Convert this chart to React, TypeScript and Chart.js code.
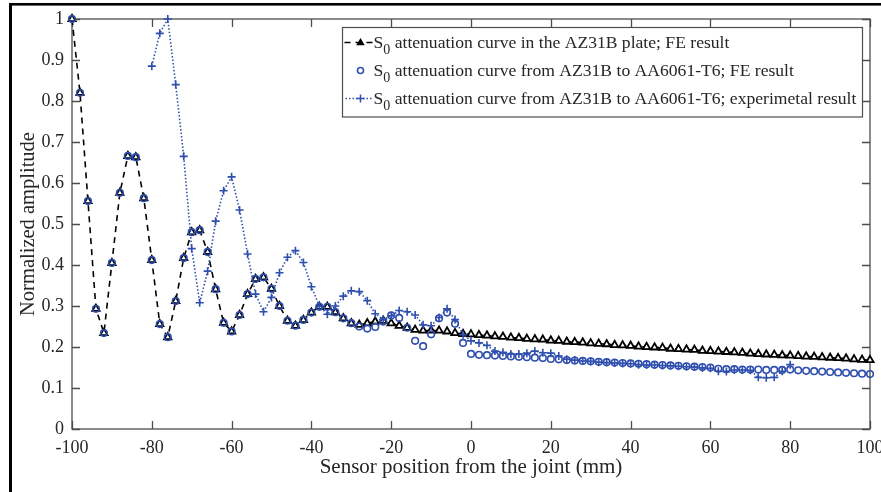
import React, { useEffect, useRef } from "react";
import { Chart, registerables } from "chart.js";

Chart.register(...registerables);

// ---------- data ----------
const xFE = [
  -100, -98, -96, -94, -92, -90, -88, -86, -84, -82, -80, -78, -76, -74, -72, -70, -68, -66, -64, -62,
  -60, -58, -56, -54, -52, -50, -48, -46, -44, -42, -40, -38, -36, -34, -32, -30, -28, -26, -24, -22,
  -20, -18, -16, -14, -12, -10, -8, -6, -4, -2, 0, 2, 4, 6, 8, 10, 12, 14, 16, 18,
  20, 22, 24, 26, 28, 30, 32, 34, 36, 38, 40, 42, 44, 46, 48, 50, 52, 54, 56, 58,
  60, 62, 64, 66, 68, 70, 72, 74, 76, 78, 80, 82, 84, 86, 88, 90, 92, 94, 96, 98, 100,
];

const feAZ31B = [
  1.0, 0.82, 0.556, 0.293, 0.234, 0.405, 0.576, 0.666, 0.663, 0.563, 0.412, 0.256, 0.224, 0.312, 0.417, 0.48, 0.485, 0.432, 0.341, 0.259,
  0.238, 0.278, 0.329, 0.366, 0.37, 0.342, 0.3, 0.264, 0.252, 0.266, 0.284, 0.298, 0.298, 0.285, 0.27, 0.258, 0.254, 0.258, 0.262, 0.264,
  0.258, 0.252, 0.247, 0.242, 0.24, 0.24, 0.24, 0.238, 0.234, 0.232, 0.231, 0.229, 0.228, 0.226, 0.225, 0.223, 0.222, 0.22, 0.219, 0.218,
  0.216, 0.215, 0.213, 0.212, 0.211, 0.209, 0.208, 0.207, 0.205, 0.204, 0.203, 0.201, 0.2, 0.199, 0.198, 0.196, 0.195, 0.194, 0.193, 0.191,
  0.19, 0.189, 0.188, 0.187, 0.186, 0.184, 0.183, 0.182, 0.181, 0.18, 0.179, 0.178, 0.177, 0.176, 0.175, 0.174, 0.173, 0.172, 0.17, 0.169, 0.168,
];

const feAZ31BtoAA = [
  1.0, 0.82, 0.556, 0.293, 0.234, 0.405, 0.576, 0.666, 0.663, 0.563, 0.412, 0.256, 0.224, 0.312, 0.417, 0.48, 0.485, 0.432, 0.341, 0.259,
  0.238, 0.278, 0.329, 0.366, 0.37, 0.342, 0.3, 0.264, 0.252, 0.266, 0.284, 0.298, 0.298, 0.285, 0.27, 0.258, 0.25, 0.245, 0.249, 0.262,
  0.277, 0.271, 0.247, 0.215, 0.202, 0.231, 0.27, 0.284, 0.257, 0.21, 0.183, 0.181, 0.18, 0.179, 0.178, 0.177, 0.176, 0.175, 0.174, 0.173,
  0.171, 0.17, 0.168, 0.167, 0.166, 0.165, 0.164, 0.163, 0.162, 0.161, 0.16, 0.159, 0.158, 0.157, 0.156, 0.155, 0.154, 0.153, 0.152, 0.151,
  0.15, 0.147, 0.146, 0.146, 0.145, 0.145, 0.145, 0.144, 0.144, 0.144, 0.145, 0.143, 0.142, 0.141, 0.14, 0.139, 0.138, 0.137, 0.136, 0.135, 0.134,
];

const xExp = [
  -80, -78, -76, -74, -72, -70, -68, -66, -64, -62, -60, -58, -56, -54, -52, -50, -48, -46, -44, -42,
  -40, -38, -36, -34, -32, -30, -28, -26, -24, -22, -20, -18, -16, -14, -12, -10, -8, -6, -4, -2,
  0, 2, 4, 6, 8, 10, 12, 14, 16, 18, 20, 22, 24, 26, 28, 30, 32, 34, 36, 38,
  40, 42, 44, 46, 48, 50, 52, 54, 56, 58, 60, 62, 64, 66, 68, 70, 72, 74, 76, 78, 80,
];

const expAZ31BtoAA = [
  0.885, 0.965, 1.0, 0.84, 0.665, 0.44, 0.308, 0.385, 0.507, 0.581, 0.615, 0.534, 0.427, 0.329, 0.286, 0.321, 0.381, 0.419, 0.435, 0.406,
  0.347, 0.3, 0.28, 0.3, 0.324, 0.337, 0.335, 0.313, 0.281, 0.267, 0.276, 0.289, 0.286, 0.278, 0.254, 0.252, 0.272, 0.293, 0.267, 0.23,
  0.215, 0.21, 0.204, 0.19, 0.187, 0.183, 0.183, 0.185, 0.19, 0.186, 0.185, 0.178, 0.17, 0.168, 0.166, 0.165, 0.163, 0.162, 0.161, 0.16,
  0.159, 0.157, 0.156, 0.156, 0.155, 0.154, 0.153, 0.152, 0.151, 0.149, 0.148, 0.141, 0.14, 0.144, 0.144, 0.143, 0.126, 0.125, 0.126, 0.141, 0.157,
];

const xTicks = [-100, -80, -60, -40, -20, 0, 20, 40, 60, 80, 100];
const yTicks = [0, 0.1, 0.2, 0.3, 0.4, 0.5, 0.6, 0.7, 0.8, 0.9, 1];

const xTitle = "Sensor position from the joint (mm)";
const yTitle = "Normalized amplitude";

const legendMain = ["S", "S", "S"];
const legendSub = ["0", "0", "0"];
const legendRest = [
  " attenuation curve in the AZ31B plate; FE result",
  " attenuation curve from AZ31B to AA6061-T6; FE result",
  " attenuation curve from AZ31B to AA6061-T6; experimetal result",
];

// ---------- styles ----------
const BLUE = "#2f4fae";
const AXIS = "#4d4d4d";
const TEXT = "#262626";
const FONT = '"Liberation Serif", "Times New Roman", serif';

const framePlugin = {
  id: "frame",
  beforeDraw(chart: any) {
    const ctx = chart.ctx;
    ctx.save();
    ctx.fillStyle = "#ffffff";
    ctx.fillRect(0, 0, chart.width, chart.height);
    ctx.fillStyle = "#000000";
    ctx.fillRect(9, 3, 3, chart.height - 3);
    ctx.fillRect(9, 3, chart.width - 9, 2.6);
    ctx.restore();
  },
};

const axesBoxPlugin = {
  id: "axesBox",
  beforeDatasetsDraw(chart: any) {
    const { ctx, chartArea } = chart;
    const { left, right, top, bottom } = chartArea;
    const xs = chart.scales.x;
    const ys = chart.scales.y;
    ctx.save();
    ctx.strokeStyle = AXIS;
    ctx.lineWidth = 1.3;
    ctx.strokeRect(left, top, right - left, bottom - top);
    ctx.beginPath();
    const tl = 8;
    for (const v of xTicks) {
      const px = Math.round(xs.getPixelForValue(v)) + 0.5;
      ctx.moveTo(px, bottom);
      ctx.lineTo(px, bottom - tl);
      ctx.moveTo(px, top);
      ctx.lineTo(px, top + tl);
    }
    for (const v of yTicks) {
      const py = Math.round(ys.getPixelForValue(v)) + 0.5;
      ctx.moveTo(left, py);
      ctx.lineTo(left + tl, py);
      ctx.moveTo(right, py);
      ctx.lineTo(right - tl, py);
    }
    ctx.stroke();
    ctx.restore();
  },
};

function drawTriangle(ctx: CanvasRenderingContext2D, x: number, y: number, r: number) {
  ctx.beginPath();
  ctx.moveTo(x, y - r);
  ctx.lineTo(x + r * 0.95, y + r * 0.6);
  ctx.lineTo(x - r * 0.95, y + r * 0.6);
  ctx.closePath();
}

const legendPlugin = {
  id: "boxLegend",
  afterDraw(chart: any) {
    const ctx: CanvasRenderingContext2D = chart.ctx;
    const { right, top } = chart.chartArea;
    const bx = Math.round(right - 8) + 0.5 - 520;
    const by = Math.round(top + 8) + 0.5;
    const bw = 520;
    const bh = 89.5;
    ctx.save();
    ctx.fillStyle = "#ffffff";
    ctx.fillRect(bx, by, bw, bh);
    ctx.strokeStyle = AXIS;
    ctx.lineWidth = 1.2;
    ctx.strokeRect(bx, by, bw, bh);

    const baselines = [by + 20, by + 48, by + 76];
    const symX0 = bx + 2;
    const symX1 = bx + 30;
    const symC = bx + 18;

    // row 1: dashed black + filled triangle
    let cy = baselines[0] - 5;
    ctx.strokeStyle = "#000";
    ctx.lineWidth = 1.5;
    ctx.setLineDash([6, 5]);
    ctx.beginPath();
    ctx.moveTo(symX0, cy);
    ctx.lineTo(symX1, cy);
    ctx.stroke();
    ctx.setLineDash([]);
    ctx.fillStyle = "#000";
    drawTriangle(ctx, symC, cy, 4.5);
    ctx.fill();

    // row 2: blue circle
    cy = baselines[1] - 5;
    ctx.strokeStyle = BLUE;
    ctx.lineWidth = 1.6;
    ctx.beginPath();
    ctx.arc(symC, cy, 3, 0, Math.PI * 2);
    ctx.stroke();

    // row 3: dotted blue + cross
    cy = baselines[2] - 5;
    ctx.lineWidth = 1.5;
    ctx.setLineDash([1.5, 2]);
    ctx.beginPath();
    ctx.moveTo(symX0 + 1, cy);
    ctx.lineTo(symX1 + 1, cy);
    ctx.stroke();
    ctx.setLineDash([]);
    ctx.beginPath();
    ctx.moveTo(symC - 4, cy);
    ctx.lineTo(symC + 4, cy);
    ctx.moveTo(symC, cy - 4);
    ctx.lineTo(symC, cy + 4);
    ctx.stroke();

    // texts
    ctx.fillStyle = TEXT;
    ctx.textBaseline = "alphabetic";
    ctx.textAlign = "left";
    for (let i = 0; i < 3; i++) {
      let tx = bx + 31;
      const b = baselines[i];
      ctx.font = `17.6px ${FONT}`;
      ctx.fillText(legendMain[i], tx, b);
      tx += ctx.measureText(legendMain[i]).width;
      ctx.font = `14px ${FONT}`;
      ctx.fillText(legendSub[i], tx, b + 6);
      tx += ctx.measureText(legendSub[i]).width;
      ctx.font = `17.6px ${FONT}`;
      ctx.fillText(legendRest[i], tx, b);
    }
    ctx.restore();
  },
};

export default function App() {
  const ref = useRef<HTMLCanvasElement | null>(null);

  useEffect(() => {
    document.body.style.margin = "0";
    const canvas = ref.current;
    if (!canvas) return;
    const tickFont = { family: FONT, size: 18 };
    const chart = new Chart(canvas, {
      type: "line",
      data: {
        datasets: [
          {
            label: legendMain[0] + legendSub[0] + legendRest[0],
            data: xFE.map((x, i) => ({ x, y: feAZ31B[i] })),
            borderColor: "#000000",
            borderWidth: 1.6,
            borderDash: [6, 5],
            pointStyle: "triangle",
            pointRadius: 4.2,
            pointBorderColor: "#000000",
            pointBackgroundColor: "#ffffff",
            pointBorderWidth: 1.8,
            tension: 0,
            clip: false,
            order: 3,
          } as any,
          {
            label: legendMain[1] + legendSub[1] + legendRest[1],
            data: xFE.map((x, i) => ({ x, y: feAZ31BtoAA[i] })),
            showLine: false,
            borderColor: BLUE,
            pointStyle: "circle",
            pointRadius: 3.3,
            pointBorderColor: BLUE,
            pointBackgroundColor: "rgba(0,0,0,0)",
            pointBorderWidth: 1.6,
            clip: false,
            order: 2,
          } as any,
          {
            label: legendMain[2] + legendSub[2] + legendRest[2],
            data: xExp.map((x, i) => ({ x, y: expAZ31BtoAA[i] })),
            borderColor: BLUE,
            borderWidth: 1.6,
            borderDash: [1.5, 2],
            pointStyle: "cross",
            pointRadius: 4,
            pointBorderColor: BLUE,
            pointBorderWidth: 1.6,
            tension: 0,
            clip: false,
            order: 1,
          } as any,
        ],
      },
      options: {
        responsive: false,
        animation: false,
        layout: { padding: { left: 0, right: 11, top: 19, bottom: 0 } },
        plugins: {
          legend: { display: false },
          tooltip: { enabled: false },
        },
        scales: {
          x: {
            type: "linear",
            min: -100,
            max: 100,
            afterBuildTicks: (s: any) => {
              s.ticks = xTicks.map((v) => ({ value: v }));
            },
            afterFit: (s: any) => {
              s.height = 63;
              s.paddingLeft = 0;
              s.paddingRight = 0;
            },
            grid: { display: false, drawTicks: false },
            border: { display: false },
            ticks: {
              font: tickFont,
              color: TEXT,
              padding: 8,
              maxRotation: 0,
              autoSkip: false,
              callback: (v: any) => String(v),
            },
            title: {
              display: true,
              text: xTitle,
              font: { family: FONT, size: 21 },
              color: TEXT,
              padding: { top: 0, bottom: 12 },
            },
          },
          y: {
            type: "linear",
            min: 0,
            max: 1,
            afterBuildTicks: (s: any) => {
              s.ticks = yTicks.map((v) => ({ value: v }));
            },
            afterFit: (s: any) => {
              s.width = 72;
              s.paddingTop = 0;
              s.paddingBottom = 0;
            },
            grid: { display: false, drawTicks: false },
            border: { display: false },
            ticks: {
              font: tickFont,
              color: TEXT,
              padding: 8,
              autoSkip: false,
              callback: (v: any) => String(Math.round(v * 10) / 10),
            },
            title: {
              display: true,
              text: yTitle,
              font: { family: FONT, size: 20.5 },
              color: TEXT,
              padding: { top: 16, bottom: 0 },
            },
          },
        },
      } as any,
      plugins: [framePlugin, axesBoxPlugin, legendPlugin],
    });
    return () => chart.destroy();
  }, []);

  return (
    <div style={{ width: 881, height: 492 }}>
      <canvas ref={ref} width={881} height={492} style={{ display: "block" }} />
    </div>
  );
}
